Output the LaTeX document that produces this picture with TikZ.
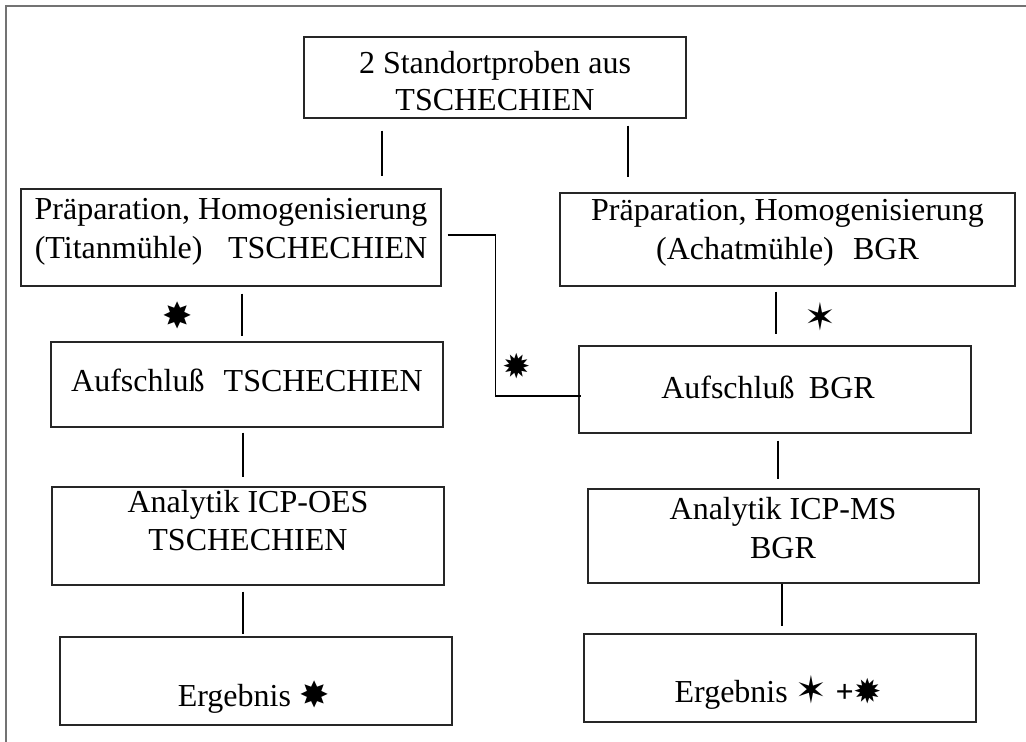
\documentclass[tikz,border=0pt]{standalone}
\usepackage{fontspec}
\setmainfont{Liberation Serif}
\newfontfamily\symfont{DejaVu Sans}
\newcommand{\st}[2]{{\symfont\fontsize{#1}{#1}\selectfont #2}}
\begin{document}
\begin{tikzpicture}[x=1pt,y=-1pt,
  box/.style={draw=black!85, line width=1.3pt, inner sep=0pt},
  link/.style={draw=black, line width=1.3pt},
  txt/.style={inner sep=0pt, anchor=base, font=\fontsize{32}{39}\selectfont},
  starnode/.style={inner sep=0pt},
  framestyle/.style={draw=black!55, line width=2pt}]
\useasboundingbox (0,0) rectangle (1026,742);
% frame
\draw[framestyle] (1026,6) -- (6,6) -- (6,742);
% boxes
\node[box, minimum width=382pt, minimum height=81pt] (b1) at (495,77.5) {};
\node[box, minimum width=420pt, minimum height=97pt] (b2l) at (231,237.5) {};
\node[box, minimum width=455pt, minimum height=93pt] (b2r) at (787.5,239.5) {};
\node[box, minimum width=392pt, minimum height=85pt] (b3l) at (247,384.5) {};
\node[box, minimum width=392pt, minimum height=87pt] (b3r) at (775,389.5) {};
\node[box, minimum width=392pt, minimum height=98pt] (b4l) at (248,536) {};
\node[box, minimum width=391pt, minimum height=94pt] (b4r) at (783.5,536) {};
\node[box, minimum width=392pt, minimum height=88pt] (b5l) at (256,681) {};
\node[box, minimum width=392pt, minimum height=88pt] (b5r) at (780,678) {};
% texts
\node[txt] (t1a) at (495,73) {2 Standortproben aus};
\node[txt] (t1b) at (495,110) {TSCHECHIEN};
\node[txt] (t2la) at (231,219) {Präparation, Homogenisierung};
\node[txt] (t2lb) at (231,258) {(Titanmühle)\hspace{0.8em}TSCHECHIEN};
\node[txt] (t2ra) at (787.5,220) {Präparation, Homogenisierung};
\node[txt] (t2rb) at (787.5,259) {(Achatmühle)\hspace{0.6em}BGR};
\node[txt] (t3l) at (247,391) {Aufschluß\hspace{0.6em}TSCHECHIEN};
\node[txt] (t3r) at (768,398) {Aufschluß\hspace{0.45em}BGR};
\node[txt] (t4la) at (248,512) {Analytik ICP-OES};
\node[txt] (t4lb) at (248,550) {TSCHECHIEN};
\node[txt] (t4ra) at (783,519) {Analytik ICP-MS};
\node[txt] (t4rb) at (783,558) {BGR};
\node[txt] (t5l) at (253.5,706) {Ergebnis \raisebox{-1pt}{\st{36}{✸}}};
\node[txt] (t5r) at (778.5,702) {Ergebnis \raisebox{-1pt}{\st{38}{✶}} \textbf{+}\raisebox{-1pt}{\st{34}{✹}}};
% stars
\node[starnode] (s1) at (178,315) {\st{36}{✸}};
\node[starnode] (s2) at (820,317) {\st{38}{✶}};
\node[starnode] (s3) at (517,366) {\st{34}{✹}};
% connectors
\draw[link, shorten <=12pt, shorten >=12pt] ([xshift=-113pt]b1.south) -- ([xshift=151pt]b2l.north);
\draw[link, shorten <=7pt, shorten >=15pt] ([xshift=133pt]b1.south) -- ([xshift=-159.5pt]b2r.north);
\draw[link, shorten <=7pt, shorten >=5pt] ([xshift=11pt]b2l.south) -- ([xshift=-5pt]b3l.north);
\draw[link, shorten <=5pt, shorten >=11pt] ([xshift=-11.5pt]b2r.south) -- ([xshift=1pt]b3r.north);
\draw[link, shorten <=5pt, shorten >=9pt] ([xshift=-4pt]b3l.south) -- ([xshift=-5pt]b4l.north);
\draw[link, shorten <=7pt, shorten >=9pt] ([xshift=3pt]b3r.south) -- ([xshift=-5.5pt]b4r.north);
\draw[link, shorten <=6pt, shorten >=2pt] ([xshift=-5pt]b4l.south) -- ([xshift=-13pt]b5l.north);
\draw[link, shorten >=7pt] ([xshift=-1.5pt]b4r.south) -- ([xshift=2pt]b5r.north);
\draw[link] ([xshift=6pt,yshift=2.5pt]b2l.east) -| ([xshift=-83pt,yshift=-6.5pt]b3r.west) -- ([xshift=3pt,yshift=-6.5pt]b3r.west);
\end{tikzpicture}
\end{document}
